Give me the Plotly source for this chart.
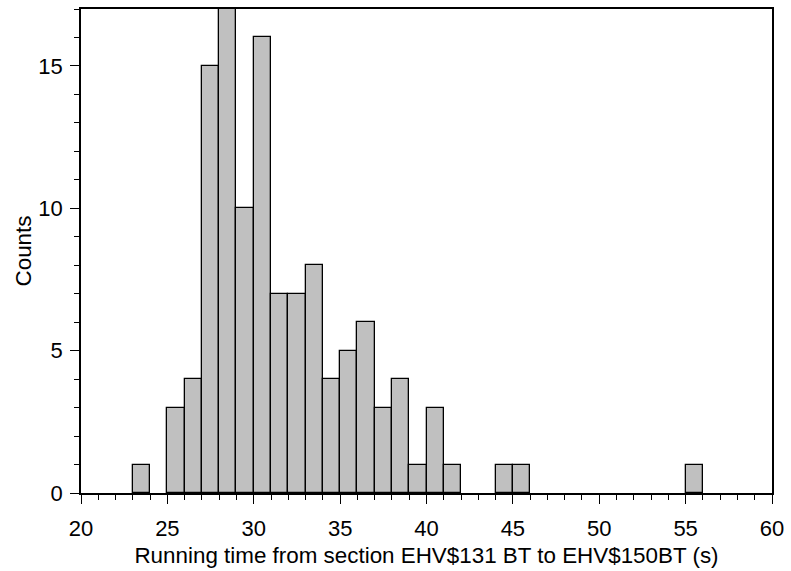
import plotly.graph_objects as go

bin_starts = [23, 25, 26, 27, 28, 29, 30, 31, 32, 33, 34, 35, 36, 37, 38, 39, 40, 41, 44, 45, 55]
counts = [1, 3, 4, 15, 17, 10, 16, 7, 7, 8, 4, 5, 6, 3, 4, 1, 3, 1, 1, 1, 1]
bin_width = 1
x_ticks = [20, 25, 30, 35, 40, 45, 50, 55, 60]
y_ticks = [0, 5, 10, 15]

font = "Liberation Sans, Arial, Helvetica, sans-serif"
title_font = dict(family=font, size=22.4, color="black")
tick_font = dict(family=font, size=22, color="black")

fig = go.Figure(
    go.Bar(
        x=[s + bin_width / 2 for s in bin_starts],
        y=counts,
        width=bin_width,
        marker=dict(color="#c0c0c0", line=dict(color="black", width=1.3)),
    )
)

fig.update_layout(
    width=791,
    height=571,
    margin=dict(l=81, r=14, t=7, b=78),
    plot_bgcolor="white",
    paper_bgcolor="white",
    showlegend=False,
    font=dict(family=font, size=22, color="black"),
    bargap=0,
)

common = dict(
    ticks="outside",
    ticklen=9,
    tickwidth=1.2,
    tickcolor="black",
    minor=dict(dtick=1, ticks="outside", ticklen=5, tickcolor="black", tickwidth=1),
    showline=True,
    linecolor="black",
    linewidth=1.5,
    mirror=True,
    showgrid=False,
    zeroline=False,
    tickfont=tick_font,
)

fig.update_xaxes(
    range=[20, 60],
    tickvals=x_ticks,
    ticklabelstandoff=6,
    title=dict(text="Running time from section EHV$131 BT to EHV$150BT (s)", standoff=7,
               font=title_font),
    **common,
)

fig.update_yaxes(
    range=[0, 17],
    tickvals=y_ticks,
    ticklabelstandoff=3,
    title=dict(text="Counts", standoff=1, font=title_font),
    **common,
)

fig.write_html("out.html")
